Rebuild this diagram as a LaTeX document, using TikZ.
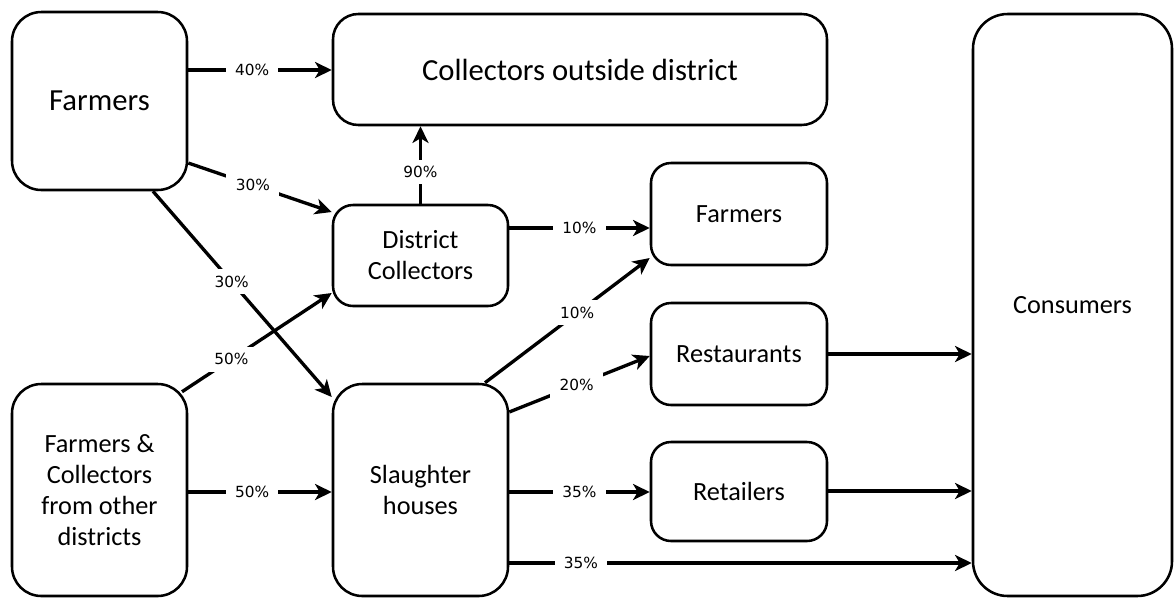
\documentclass[tikz,border=0pt]{standalone}
\usepackage{fontspec}
\setmainfont{Carlito}
\newfontfamily\lblfont{DejaVu Sans}
\usetikzlibrary{arrows.meta}
\begin{document}
\begin{tikzpicture}[x=0.75pt,y=-0.75pt,
  box/.style={draw, line width=1.9pt, inner sep=0pt, align=center, fill=white,
    font=\fontsize{19.7}{23.3}\selectfont},
  bigtext/.style={font=\fontsize{23}{27}\selectfont},
  flow/.style={line width=2.5pt, -{Stealth[length=12.5pt,width=12pt,inset=3.5pt]}},
  lbl/.style={fill=white, inner xsep=7pt, inner ysep=5pt, font=\lblfont\fontsize{11.5}{13}\selectfont}
]
\useasboundingbox (0,0) rectangle (1174,597);
\clip (0,0) rectangle (1174,597);

% nodes
\node[box, bigtext, rounded corners=22pt, minimum width={175*0.75pt}, minimum height={178*0.75pt}] (farm) at (99.5,101) {Farmers};
\node[box, bigtext, rounded corners=19pt, minimum width={494*0.75pt}, minimum height={111*0.75pt}] (cod) at (580,69.5) {Collectors outside district};
\node[box, rounded corners=15pt, minimum width={175*0.75pt}, minimum height={101*0.75pt}] (dc) at (420.5,255.5) {District\\Collectors};
\node[box, rounded corners=15pt, minimum width={176*0.75pt}, minimum height={102*0.75pt}] (farm2) at (739,214) {Farmers};
\node[box, rounded corners=15pt, minimum width={176*0.75pt}, minimum height={102*0.75pt}] (rest) at (739,354) {Restaurants};
\node[box, rounded corners=15pt, minimum width={176*0.75pt}, minimum height={99*0.75pt}] (ret) at (739,491.5) {Retailers};
\node[box, rounded corners=26pt, minimum width={199*0.75pt}, minimum height={582*0.75pt}] (cons) at (1072.5,305) {Consumers};
\node[box, rounded corners=22pt, minimum width={175*0.75pt}, minimum height={212*0.75pt}] (fc) at (99.5,490) {Farmers \&\\Collectors\\from other\\districts};
\node[box, rounded corners=22pt, minimum width={175*0.75pt}, minimum height={212*0.75pt}] (sh) at (420.5,490) {Slaughter\\houses};

% connectors
\draw[flow] (farm.east |- 0,70) -- node[lbl, pos=0.445] {40\%} (cod.west |- 0,70);
\draw[flow] (farm.east |- 0,163) -- node[lbl, pos=0.45] {30\%} (dc.west |- 0,212);
\draw[flow] (farm.south -| 153,0) -- node[lbl, pos=0.44] {30\%} (sh.west |- 0,397);
\draw[flow] (fc.north -| 182,0) ++(0,9) -- node[lbl, pos=0.33] {50\%} (dc.west |- 0,293);
\draw[flow] (fc.east |- 0,492) -- node[lbl, pos=0.445] {50\%} (sh.west |- 0,492);
\draw[flow] (dc.north) -- node[lbl, pos=0.41] {90\%} (dc.north |- cod.south);
\draw[flow] (dc.east |- 0,228) -- node[lbl, pos=0.5] {10\%} (farm2.west |- 0,228);
\draw[flow] (sh.north -| 485,0) -- node[lbl, pos=0.56] {10\%} (farm2.west |- 0,258);
\draw[flow] (sh.east |- 0,412) -- node[lbl, pos=0.48] {20\%} (rest.west |- 0,356);
\draw[flow] (sh.east |- 0,492) -- node[lbl, pos=0.5] {35\%} (ret.west |- 0,492);
\draw[flow] (sh.east |- 0,563) -- node[lbl, pos=0.155] {35\%} (cons.west |- 0,563);
\draw[flow] (rest.east |- 0,354) -- (cons.west |- 0,354);
\draw[flow] (ret.east |- 0,491) -- (cons.west |- 0,491);
\end{tikzpicture}
\end{document}
